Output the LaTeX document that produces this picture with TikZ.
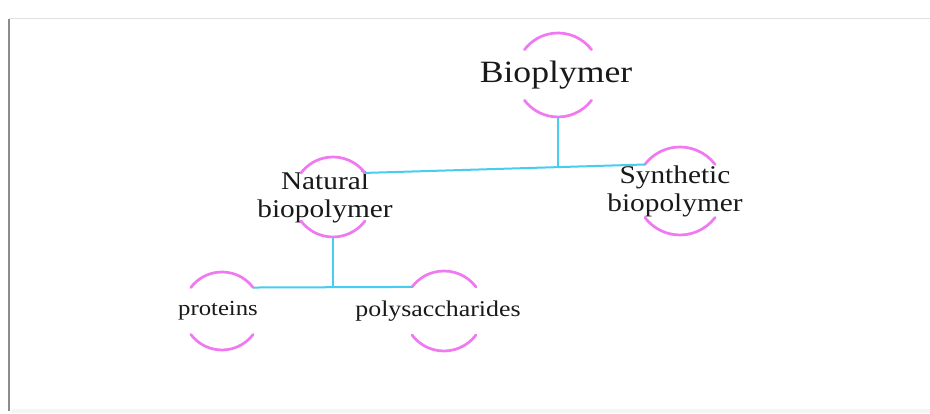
\documentclass[tikz,border=0pt]{standalone}
\usepackage{fontspec}
\newfontfamily\diagfont[FakeStretch=1.15]{Liberation Serif}
\usetikzlibrary{positioning}
\definecolor{ringpink}{RGB}{240,120,240}
\definecolor{linkcyan}{RGB}{70,205,240}

\begin{document}
\begin{tikzpicture}[
    x=1pt, y=1pt,
    ring/.style={circle, inner sep=0pt, outer sep=0pt, minimum size=#1},
    ringtext/.style={font=\diagfont\fontsize{#1}{28}\selectfont, text=black!90, align=center},
    arc line/.style={draw=ringpink, line width=2.7pt, line cap=round},
    link/.style={draw=linkcyan, line width=2pt}
]
\useasboundingbox (0,0) rectangle (930,414);

% Frame
\fill[black!4] (12,1) rectangle (934,392);
\fill[white] (9,5) rectangle (930,395);
\draw[black!45, line width=1.6pt] (9,3) -- (9,395);
\draw[black!12, line width=1pt] (9,395) -- (930,395);

% Nodes
\node[ring=84pt, label={[ringtext=31, xshift=-2pt]center:Bioplymer}] (bio) at (558,339) {};
\node[ring=80pt, label={[ringtext=25.5, xshift=-8pt]center:{Natural\\biopolymer}}] (nat) at (333,217) {};
\node[ring=88pt, label={[ringtext=25.5, xshift=-5pt]center:{Synthetic\\biopolymer}}] (syn) at (680,223) {};
\node[ring=78pt, label={[ringtext=21.5, xshift=-4pt]center:proteins}] (prot) at (222,103) {};
\node[ring=80pt, label={[ringtext=22.5, xshift=-6pt]center:polysaccharides}] (poly) at (444,103) {};

% Rings
\foreach \n/\r in {bio/42, nat/40, syn/44, prot/39, poly/40} {
  \draw[arc line] (\n.37) arc[start angle=37, end angle=143, radius=\r pt];
  \draw[arc line] (\n.-37) arc[start angle=-37, end angle=-143, radius=\r pt];
}

% Lines
\draw[link] (nat.37) -- coordinate[pos=0.69] (split) (syn.143);
\draw[link] (bio.south) -- (bio.south |- split);
\draw[link] (prot.37) -- coordinate[pos=0.5] (fork) (poly.143);
\draw[link] (nat.south) -- (nat.south |- fork);

\end{tikzpicture}
\end{document}
